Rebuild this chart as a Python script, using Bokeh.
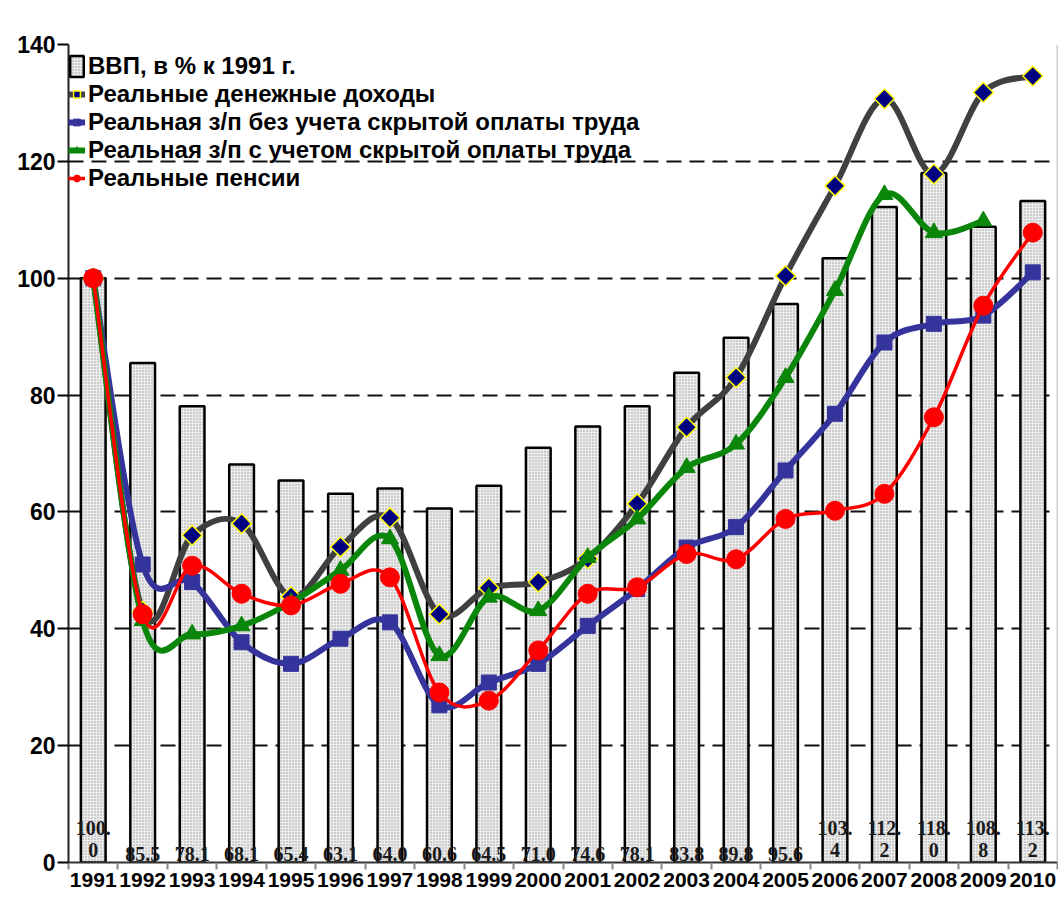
import math
from bokeh.plotting import figure
from bokeh.models import ColumnDataSource, FixedTicker, Legend, LegendItem, Range1d, Span
from bokeh.core.properties import value
from bokeh.embed import file_html
from bokeh.resources import INLINE

years = list(range(1991, 2011))
gdp = [100.0, 85.5, 78.1, 68.1, 65.4, 63.1, 64.0, 60.6, 64.5, 71.0,
       74.6, 78.1, 83.8, 89.8, 95.6, 103.4, 112.2, 118.0, 108.8, 113.2]
income = [100, 43, 56, 58, 45.5, 54, 59, 42.5, 47, 48,
          52, 61.4, 74.5, 83, 100.4, 115.8, 130.7, 117.8, 131.8, 134.6]
wage = [100, 51, 48, 37.7, 34, 38.3, 41.1, 26.9, 30.8, 34,
        40.5, 46.8, 53.9, 57.4, 67.1, 76.8, 89, 92.2, 93.6, 101]
wage_hidden = [100, 41.4, 39.1, 40.5, 44.5, 50, 55.4, 35.4, 45.4, 43.1,
               52.2, 58.8, 67.6, 71.6, 83, 97.9, 114.3, 107.8, 109.8]
pension = [100, 42.5, 50.8, 46, 44, 47.7, 48.8, 29.1, 27.7, 36.3,
           46, 47.1, 52.8, 51.9, 58.8, 60.2, 63.1, 76.2, 95.3, 107.8]
y_ticks = [0, 20, 40, 60, 80, 100, 120, 140]
names = ["ВВП, в % к 1991 г.",
         "Реальные денежные доходы",
         "Реальная з/п без учета скрытой оплаты труда",
         "Реальная з/п с учетом скрытой оплаты труда",
         "Реальные пенсии"]


def smooth_segments(xs, ys):
    n = len(xs)
    def pt(i):
        i = max(0, min(n - 1, i))
        return xs[i], ys[i]
    d = dict(x0=[], y0=[], x1=[], y1=[], cx0=[], cy0=[], cx1=[], cy1=[])
    for i in range(n - 1):
        xm, ym = pt(i - 1)
        xa, ya = pt(i)
        xb, yb = pt(i + 1)
        xp, yp = pt(i + 2)
        d["x0"].append(xa); d["y0"].append(ya)
        d["x1"].append(xb); d["y1"].append(yb)
        d["cx0"].append(xa + (xb - xm) / 6.0); d["cy0"].append(ya + (yb - ym) / 6.0)
        d["cx1"].append(xb - (xp - xa) / 6.0); d["cy1"].append(yb - (yp - ya) / 6.0)
    return ColumnDataSource(d)


p = figure(width=1058, height=896, output_backend="svg", toolbar_location=None,
           x_range=Range1d(1990.5, 2010.5), y_range=Range1d(0, 140),
           min_border_left=68, min_border_right=1, min_border_top=44, min_border_bottom=34)
p.outline_line_color = None
p.background_fill_color = "white"

p.xgrid.grid_line_color = None
p.ygrid.ticker = FixedTicker(ticks=y_ticks[1:])
p.ygrid.grid_line_color = "#111111"
p.ygrid.grid_line_width = 2
p.ygrid.grid_line_dash = "15 8"

p.yaxis.ticker = FixedTicker(ticks=y_ticks)
p.yaxis.axis_line_color = "#222222"
p.yaxis.axis_line_width = 2
p.yaxis.major_tick_out = 11
p.yaxis.major_tick_in = 0
p.yaxis.major_tick_line_width = 2
p.yaxis.minor_tick_line_color = None
p.yaxis.major_label_text_font = "Liberation Sans"
p.yaxis.major_label_text_font_style = "bold"
p.yaxis.major_label_text_font_size = "23px"
p.yaxis.major_label_text_color = "black"
p.yaxis.major_label_standoff = 2

p.xaxis.ticker = FixedTicker(ticks=years, minor_ticks=[y - 0.5 for y in years] + [years[-1] + 0.5])
p.xaxis.axis_line_color = "#333333"
p.xaxis.axis_line_width = 2
p.xaxis.major_tick_out = 0
p.xaxis.major_tick_in = 0
p.xaxis.minor_tick_out = 7
p.xaxis.minor_tick_in = 0
p.xaxis.minor_tick_line_color = "#888888"
p.xaxis.minor_tick_line_width = 2
p.xaxis.major_label_text_font = "Liberation Sans"
p.xaxis.major_label_text_font_style = "bold"
p.xaxis.major_label_text_font_size = "21px"
p.xaxis.major_label_text_color = "black"
p.xaxis.major_label_standoff = 3

p.add_layout(Span(location=2010.5, dimension="height", line_color="#999999", line_width=1.5))

bars = p.vbar(x=years, top=gdp, width=0.5, fill_color="#ececec", line_color="black",
              line_width=2.5, hatch_pattern="dot", hatch_color="#9a9a9a", hatch_scale=3,
              hatch_weight=1)

labels = []
for v in gdp:
    s = f"{v:.1f}"
    labels.append(s if len(s) <= 4 else s[:4] + "\n" + s[4:])
p.text(x=years, y=[0] * len(years), text=labels, text_align="center", text_baseline="bottom",
       y_offset=-2, text_font=value("Liberation Serif"), text_font_size="20px",
       text_font_style="bold", text_color="#1a1a1a", text_line_height=1.0)

series = [
    (income, years, "#404040", 6, dict(marker="square", angle=math.pi / 4, size=14,
                                        fill_color="#000080", line_color="#ffff00", line_width=1.5)),
    (wage, years, "#34349c", 6, dict(marker="square", size=15, fill_color="#34349c",
                                      line_color="#34349c", line_width=1)),
    (wage_hidden, years[:len(wage_hidden)], "#0a870a", 6,
     dict(marker="triangle", size=17, fill_color="#0a870a", line_color="#0a870a", line_width=1)),
    (pension, years, "#ff0000", 3.5, dict(marker="circle", size=19, fill_color="#ff0000",
                                           line_color="#ff0000", line_width=1)),
]

items = [LegendItem(label=names[0], renderers=[bars])]
for k, (vals, xs, col, lw, mk) in enumerate(series):
    src = smooth_segments(xs, vals)
    lr = p.bezier(x0="x0", y0="y0", x1="x1", y1="y1", cx0="cx0", cy0="cy0",
                  cx1="cx1", cy1="cy1", source=src, line_color=col, line_width=lw)
    mr = p.scatter(x=xs, y=vals, **mk)
    items.append(LegendItem(label=names[k + 1], renderers=[lr, mr]))

legend = Legend(items=items, location=(0, 670))
legend.background_fill_alpha = 0
legend.border_line_color = None
legend.label_text_font = "Liberation Sans"
legend.label_text_font_style = "bold"
legend.label_text_font_size = "24px"
legend.label_text_color = "black"
legend.glyph_width = 17
legend.glyph_height = 26
legend.label_height = 28
legend.spacing = 0
legend.padding = 0
legend.margin = 0
legend.label_standoff = 3
p.add_layout(legend)

open("out.html", "w").write(file_html(p, INLINE))
